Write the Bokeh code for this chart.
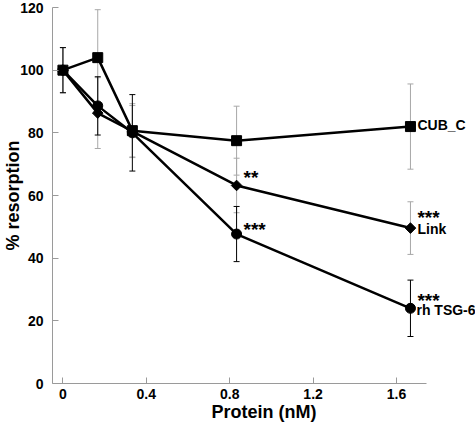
import math
from bokeh.plotting import figure
from bokeh.models import ColumnDataSource, Whisker, TeeHead, Label, FixedTicker, Range1d
from bokeh.embed import file_html
from bokeh.resources import INLINE

# ---- data ----
protein_nM = [0, 0.167, 0.333, 0.833, 1.667]
cub_c = [100, 104, 80.7, 77.5, 82]
cub_c_err = [7.2, 15.3, 8.6, 11, 13.6]
link = [100, 86.3, 80.5, 63.2, 49.6]
link_err = [7.2, 11.3, 8.2, 8.7, 8.4]
tsg6 = [100, 88.6, 80, 47.7, 24]
tsg6_err = [7.2, 9.3, 12.2, 8.8, 9]
series_names = ["CUB_C", "Link", "rh TSG-6"]
sig_link = ["", "", "", "**", "***"]
sig_tsg6 = ["", "", "", "***", "***"]
x_ticks = [0, 0.4, 0.8, 1.2, 1.6]
x_tick_labels = ["0", "0.4", "0.8", "1.2", "1.6"]
y_ticks = [0, 20, 40, 60, 80, 100, 120]
x_title = "Protein (nM)"
y_title = "% resorption"

FONT = "Liberation Sans"
AX = "#9a9a9a"
ERR_GRAY = "#a8a8a8"

X0 = -0.05
p = figure(width=475, height=432, output_backend="svg", toolbar_location=None,
           x_range=Range1d(X0, 1.979), y_range=Range1d(0, 120),
           min_border_top=7, min_border_right=0, min_border_left=52, min_border_bottom=49)
p.outline_line_color = None
p.xgrid.visible = False
p.ygrid.visible = False
p.background_fill_color = "white"
p.border_fill_color = "white"

for ax in (p.xaxis[0], p.yaxis[0]):
    ax.axis_line_color = AX
    ax.major_tick_line_color = AX
    ax.major_tick_in = 6
    ax.major_tick_out = 0
    ax.minor_tick_line_color = None
    ax.major_label_text_font = FONT
    ax.major_label_text_font_style = "bold"
    ax.major_label_text_font_size = "14px"
    ax.major_label_text_color = "black"
    ax.axis_label_text_font = FONT
    ax.axis_label_text_font_style = "bold"
    ax.axis_label_text_font_size = "18px"
    ax.axis_label_text_color = "black"

p.xaxis.ticker = FixedTicker(ticks=x_ticks)
p.xaxis.major_label_overrides = {t: l for t, l in zip(x_ticks, x_tick_labels)}
p.xaxis.bounds = (X0, 1.746)
p.xaxis.axis_label = x_title
p.xaxis.major_label_standoff = 5
p.xaxis.axis_label_standoff = 0

p.yaxis.ticker = FixedTicker(ticks=y_ticks)
p.yaxis.bounds = (0, 120)
p.yaxis.axis_label = y_title
p.yaxis.major_label_standoff = 9
p.yaxis.axis_label_standoff = -6

series = [
    (cub_c, cub_c_err, ERR_GRAY, "square", 10, 0.0),
    (link, link_err, ERR_GRAY, "square", 7.5, math.pi / 4),
    (tsg6, tsg6_err, "black", "circle", 10, 0.0),
]

# error bars (below lines)
for vals, errs, ecol, *_ in series:
    src = ColumnDataSource(dict(x=protein_nM,
                                upper=[v + e for v, e in zip(vals, errs)],
                                lower=[v - e for v, e in zip(vals, errs)]))
    w = Whisker(source=src, base="x", upper="upper", lower="lower",
                line_color=ecol, line_width=1, level="underlay",
                upper_head=TeeHead(size=6, line_color=ecol, line_width=1),
                lower_head=TeeHead(size=6, line_color=ecol, line_width=1))
    p.add_layout(w)

for vals, errs, ecol, marker, msize, ang in series:
    p.line(protein_nM, vals, line_color="black", line_width=2.5)
    p.scatter(protein_nM, vals, marker=marker, size=msize, angle=ang,
              fill_color="black", line_color="black")

def add_label(x, y, text, xo, yo, size="14px"):
    p.add_layout(Label(x=x, y=y, text=text, x_offset=xo, y_offset=yo,
                       text_font=FONT, text_font_style="bold",
                       text_font_size=size, text_color="black",
                       text_baseline="alphabetic", text_align="left"))

# series names at the last point
last = len(protein_nM) - 1
add_label(protein_nM[last], cub_c[last], series_names[0], 7, 2)
add_label(protein_nM[last], link[last], series_names[1], 7, -1)
add_label(protein_nM[last], tsg6[last], series_names[2], 6, -2)

# significance marks
for i, s in enumerate(sig_link):
    if s:
        yo = 11 if i == last else 8
        add_label(protein_nM[i], link[i], s, 7, yo, "19px")
for i, s in enumerate(sig_tsg6):
    if s:
        yo = 8 if i == last else 5
        add_label(protein_nM[i], tsg6[i], s, 7, yo, "19px")

open("out.html", "w").write(file_html(p, INLINE))
